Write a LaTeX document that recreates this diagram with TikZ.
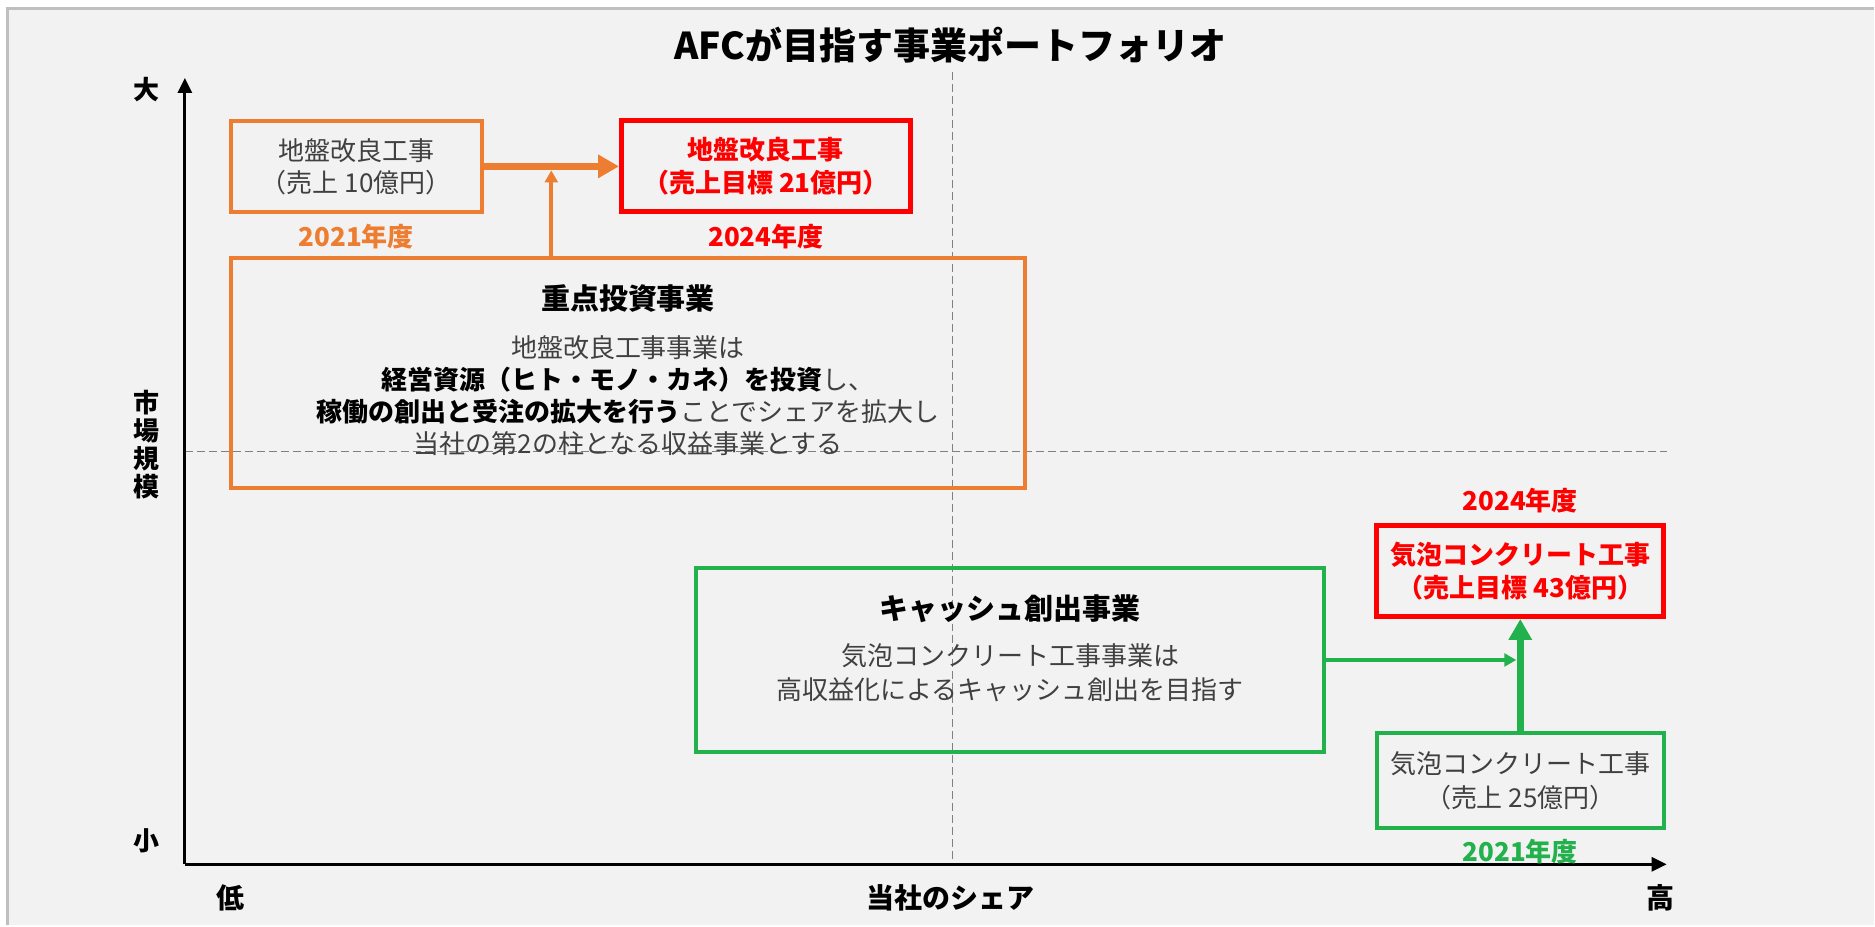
\documentclass[tikz,border=0pt]{standalone}
\usepackage{fontspec}
\setmainfont{Noto Sans CJK JP}
\usetikzlibrary{arrows.meta, positioning, calc}

\definecolor{afcorange}{HTML}{ED7D31}
\definecolor{afcred}{HTML}{FF0000}
\definecolor{afcgreen}{HTML}{22B14C}
\definecolor{afcgray}{HTML}{404040}
\definecolor{afcbg}{HTML}{F2F2F2}
\definecolor{afcframe}{HTML}{BFBFBF}

\newcommand{\boldpart}[1]{\textcolor{black}{\bfseries #1}}

\begin{document}
\begin{tikzpicture}[x=1pt, y=-1pt,
    panel/.style={draw, line width=4pt, inner sep=0pt},
    target/.style={panel, afcred, line width=5pt, text=afcred,
                   font=\fontsize{26}{33}\selectfont\bfseries, align=center},
    body/.style={text=afcgray, align=center, inner sep=0pt,
                 font=\fontsize{26}{32}\selectfont},
    head/.style={text=black, inner sep=0pt, font=\fontsize{29}{34}\selectfont\bfseries},
    year/.style={inner sep=0pt, font=\fontsize{26}{30}\selectfont\bfseries},
    axislbl/.style={inner sep=0pt, align=center, font=\fontsize{26}{28}\selectfont\bfseries},
    axis/.style={line width=3pt, -{Triangle[length=15pt, width=14pt]}},
    guide/.style={draw=gray, line width=1.2pt, dash pattern=on 8pt off 4pt},
    arrow/.style={line width=#1, -{Triangle[length=3*#1, width=3.2*#1]}},
    arrow/.default=4pt]

    % background and frame
    \fill[white] (0,0) rectangle (1875,926);
    \fill[afcbg] (8,9) rectangle (1875,926);
    \draw[afcframe, line width=3pt] (8,926) -- (8,8.5) -- (1875,8.5);
    \useasboundingbox (0,0) rectangle (1875,926);

    \node[font=\fontsize{37}{42}\selectfont\bfseries] (title) at (951,45) {AFCが目指す事業ポートフォリオ};

    % quadrant guides
    \draw[guide] (953,72) -- (953,861);
    \draw[guide] (185,452) -- (1668,452);

    % axes
    \coordinate (origin) at (185,865);
    \coordinate (ytip) at (185,78);
    \coordinate (xtip) at (1668,865);
    \draw[axis] (origin) -- (ytip);
    \draw[axis] (origin) -- (xtip);
    \node[axislbl] (big) at (147,90) {大};
    \node[axislbl] (small) at (147,841) {小};
    \node[axislbl] (market) at (147,445) {市\\場\\規\\模};
    \node[axislbl, font=\fontsize{28}{30}\selectfont\bfseries] (low) at (231,899) {低};
    \node[axislbl, font=\fontsize{28}{30}\selectfont\bfseries] (share) at (951,899) {当社のシェア};
    \node[axislbl, font=\fontsize{28}{30}\selectfont\bfseries] (high) at (1662,899) {高};

    % ground improvement
    \node[panel, afcorange, body, minimum width=251pt, minimum height=91pt] (ground21) at (356.5,166.5) {地盤改良工事\\（売上 10億円）};
    \node[target, minimum width=289pt, minimum height=91pt] (ground24) at (766.5,166.5) {地盤改良工事\\（売上目標 21億円）};
    \node[year, text=afcorange, below=10pt of ground21] (ground21yr) {2021年度};
    \node[year, text=afcred, below=10pt of ground24] (ground24yr) {2024年度};

    \node[panel, afcorange, minimum width=795pt, minimum height=230pt] (invest) at (628.5,373) {};
    \node[head, below=29pt of invest.north] (investhead) {重点投資事業};
    \node[body, below=23pt of investhead] (investbody) {地盤改良工事事業は\\
        \boldpart{経営資源（ヒト・モノ・カネ）を投資}し、\\
        \boldpart{稼働の創出と受注の拡大を行う}ことでシェアを拡大し\\
        当社の第2の柱となる収益事業とする};

    % foamed concrete
    \node[target, minimum width=287pt, minimum height=91pt] (foam24) at (1521.5,571.5) {気泡コンクリート工事\\（売上目標 43億円）};
    \node[year, text=afcred, above=10pt of foam24] (foam24yr) {2024年度};
    \node[panel, afcgreen, body, minimum width=287pt, minimum height=95pt, font=\fontsize{26}{34}\selectfont] (foam21) at (1521.5,781.5) {気泡コンクリート工事\\（売上 25億円）};
    \node[year, text=afcgreen, below=9pt of foam21] (foam21yr) {2021年度};

    \node[panel, afcgreen, minimum width=628pt, minimum height=185pt] (cash) at (1011,660.5) {};
    \node[head, below=29pt of cash.north] (cashhead) {キャッシュ創出事業};
    \node[body, below=20pt of cashhead, font=\fontsize{26}{35}\selectfont] (cashbody) {気泡コンクリート工事事業は\\高収益化によるキャッシュ創出を目指す};

    % growth arrows
    \coordinate (hub) at ($(ground21.east)!0.5!(ground24.west)$);
    \draw[arrow=7pt, afcorange] (ground21.east) -- (ground24.west);
    \draw[arrow=4pt, afcorange] (invest.north -| hub) -- ([yshift=-4pt]hub);
    \draw[arrow=7pt, afcgreen] (foam21.north) -- (foam24.south);
    \draw[arrow=4pt, afcgreen, shorten >=4pt] (cash.east) -- (cash.east -| foam21.north);
\end{tikzpicture}
\end{document}
